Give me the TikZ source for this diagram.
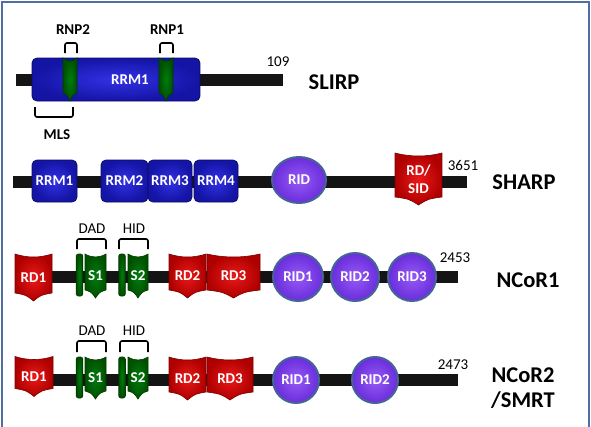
\documentclass[tikz,border=0pt]{standalone}
\usepackage{fontspec}
\setmainfont{Carlito}
\usetikzlibrary{shapes.geometric}

\definecolor{rrmblue}{RGB}{50,50,230}
\definecolor{rrmdark}{RGB}{20,20,165}
\definecolor{rdred}{RGB}{235,25,25}
\definecolor{rddark}{RGB}{175,0,0}
\definecolor{sgreen}{RGB}{0,125,15}
\definecolor{sdark}{RGB}{0,80,0}
\definecolor{ridpurple}{RGB}{150,90,245}
\definecolor{riddark}{RGB}{105,45,220}
\definecolor{ridedge}{RGB}{70,100,150}
\definecolor{framecol}{RGB}{80,110,160}

\newcommand{\domfont}{\bfseries\fontsize{15}{18}\selectfont}
\newcommand{\numfont}{\fontsize{15}{15}\selectfont}
\newcommand{\protfont}{\bfseries\fontsize{22.5}{25}\selectfont}

% domain with dipped top and pointed bottom: name, x, y, width, height, style, text
\newcommand{\rdshape}[7]{%
  \shadedraw[#6] ({#2-#4/2},{#3-#5/2})
    .. controls ({#2-#4/6},{#3-#5/2+4}) and ({#2+#4/6},{#3-#5/2+4}) .. ({#2+#4/2},{#3-#5/2})
    -- ({#2+#4/2},{#3+#5/2-8})
    .. controls ({#2+#4/5},{#3+#5/2-6}) .. ({#2},{#3+#5/2})
    .. controls ({#2-#4/5},{#3+#5/2-6}) .. ({#2-#4/2},{#3+#5/2-8}) -- cycle;
  \node[dom] (#1) at (#2,#3) {#7};}

\tikzset{
  bar/.style={line width=11.5pt, draw=black!92},
  dom/.style={inner sep=0pt, text=white, font=\domfont, align=center},
  rrm/.style={dom, draw=rrmdark!60!black, line width=0.8pt, rounded corners=5pt,
    inner color=rrmblue, outer color=rrmdark},
  rd/.style={draw=rddark!70!black, line width=0.6pt, inner color=rdred, outer color=rddark},
  strip/.style={draw=sdark!70!black, line width=0.6pt, inner color=sgreen, outer color=sdark},
  thinstrip/.style={draw=sdark!70!black, line width=0.6pt, rounded corners=2pt,
    inner color=sgreen, outer color=sdark, minimum width=6.5, inner sep=0pt},
  rid/.style={dom, ellipse, draw=ridedge, line width=2pt, inner color=ridpurple, outer color=riddark},
  brk/.style={draw=black, line width=1.6pt, rounded corners=2pt},
  tag/.style={inner sep=0pt, font=\domfont},
  motif/.style={inner sep=0pt, font=\numfont},
  num/.style={inner sep=0pt, font=\numfont},
  prot/.style={inner sep=0pt, font=\protfont, align=center},
  frame/.style={draw=framecol, line width=2pt}
}

\begin{document}
\begin{tikzpicture}[x=1pt, y=-1pt]
    \useasboundingbox (0,0) rectangle (591,426);
    \draw[frame] (1.5,430) -- (1.5,1.5) -- (588.5,1.5) -- (588.5,430);

    % SLIRP
    \coordinate (slirpN) at (16,80);
    \coordinate (slirpC) at (283,80);
    \draw[bar] (slirpN) -- (slirpC);
    \node[rrm, minimum width=168, minimum height=43] (slirpRRM) at (116,79.5) {};
    \rdshape{slirpRNP2}{70}{79.5}{14}{43}{strip}{}
    \rdshape{slirpRNP1}{166}{79.5}{14}{43}{strip}{}
    \node[dom] (slirpRRMtxt) at (130,80) {RRM1};
    \draw[brk] (65,53) -- (65,43) -- (77,43) -- (77,53);
    \draw[brk] (160,53) -- (160,43) -- (173,43) -- (173,53);
    \draw[brk] (35,107) -- (35,117) -- (73,117) -- (73,107);
    \node[tag] (rnp2) at (73,30) {RNP2};
    \node[tag] (rnp1) at (167,30) {RNP1};
    \node[tag] (mls) at (57,135) {MLS};
    \node[num] (slirpLen) at (278,62) {109};
    \node[prot] (slirp) at (334,82) {SLIRP};

    % SHARP
    \coordinate (sharpN) at (13,182);
    \coordinate (sharpC) at (467,182);
    \draw[bar] (sharpN) -- (sharpC);
    \node[rrm, minimum width=45, minimum height=42] (sharpRRM1) at (54.5,181) {RRM1};
    \node[rrm, minimum width=47, minimum height=42] (sharpRRM2) at (124.5,181) {RRM2};
    \node[rrm, minimum width=44, minimum height=42] (sharpRRM3) at (170,181) {RRM3};
    \node[rrm, minimum width=44, minimum height=42] (sharpRRM4) at (216,181) {RRM4};
    \node[rid, minimum width=54, minimum height=46] (sharpRID) at (299,180) {RID};
    \rdshape{sharpRD}{418.5}{179}{47}{52}{rd}{RD/\\SID}
    \node[num] (sharpLen) at (463,165) {3651};
    \node[prot] (sharp) at (524,182) {SHARP};

    % NCoR1
    \coordinate (ncorAN) at (15,277);
    \coordinate (ncorAC) at (458,277);
    \draw[bar] (ncorAN) -- (ncorAC);
    \rdshape{ncorARD1}{33.5}{277.5}{37}{47}{rd}{RD1}
    \node[thinstrip, minimum height=42] (ncorAS1a) at (79.5,275) {};
    \rdshape{ncorAS1}{95.5}{276}{21}{44}{strip}{S1}
    \node[thinstrip, minimum height=42] (ncorAS2a) at (122,275) {};
    \rdshape{ncorAS2}{138}{276}{20}{44}{strip}{S2}
    \rdshape{ncorARD2}{187.5}{276}{37}{44}{rd}{RD2}
    \rdshape{ncorARD3}{233.5}{276}{53}{44}{rd}{RD3}
    \node[rid, minimum width=50, minimum height=48] (ncorARID1) at (298,277) {RID1};
    \node[rid, minimum width=48, minimum height=48] (ncorARID2) at (355,277) {RID2};
    \node[rid, minimum width=48, minimum height=48] (ncorARID3) at (412,277) {RID3};
    \draw[brk] (77,249) -- (77,239) -- (106,239) -- (106,249);
    \draw[brk] (119,249) -- (119,239) -- (148,239) -- (148,249);
    \node[motif] (ncorADAD) at (92,229) {DAD};
    \node[motif] (ncorAHID) at (134,229) {HID};
    \node[num] (ncorALen) at (455,258) {2453};
    \node[prot] (ncorA) at (528,280) {NCoR1};

    % NCoR2/SMRT
    \coordinate (ncorBN) at (15,380);
    \coordinate (ncorBC) at (458,380);
    \draw[bar] (ncorBN) -- (ncorBC);
    \rdshape{ncorBRD1}{34}{376.5}{38}{40}{rd}{RD1}
    \node[thinstrip, minimum height=41] (ncorBS1a) at (79.5,377.5) {};
    \rdshape{ncorBS1}{95.5}{378}{21}{42}{strip}{S1}
    \node[thinstrip, minimum height=41] (ncorBS2a) at (122,377.5) {};
    \rdshape{ncorBS2}{138}{378}{20}{42}{strip}{S2}
    \rdshape{ncorBRD2}{187.5}{378.5}{37}{43}{rd}{RD2}
    \rdshape{ncorBRD3}{230}{378.5}{46}{43}{rd}{RD3}
    \node[rid, minimum width=46, minimum height=46] (ncorBRID1) at (296,380) {RID1};
    \node[rid, minimum width=46, minimum height=46] (ncorBRID2) at (375,380) {RID2};
    \draw[brk] (77,352) -- (77,341) -- (106,341) -- (106,352);
    \draw[brk] (120,352) -- (120,341) -- (148,341) -- (148,352);
    \node[motif] (ncorBDAD) at (92,331) {DAD};
    \node[motif] (ncorBHID) at (134,331) {HID};
    \node[num] (ncorBLen) at (453,365) {2473};
    \node[prot] (ncorB) at (523,388) {NCoR2\\/SMRT};
\end{tikzpicture}
\end{document}
